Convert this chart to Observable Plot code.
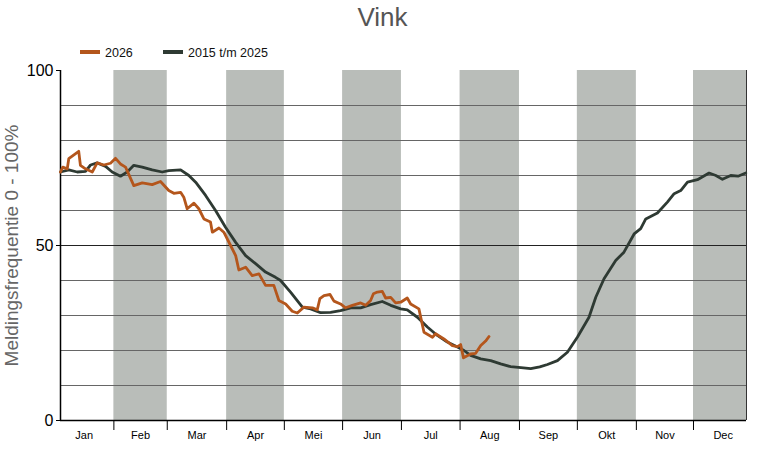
<!DOCTYPE html>
<html>
<head>
<meta charset="utf-8">
<script src="https://cdn.jsdelivr.net/npm/d3@7"></script>
<script src="https://cdn.jsdelivr.net/npm/@observablehq/plot@0.6"></script>
<style>
  html, body { margin: 0; padding: 0; background: #fff; }
  body { width: 765px; height: 450px; overflow: hidden; font-family: "Liberation Sans", Arial, sans-serif; }
  #header { position: relative; width: 765px; height: 60px; }
  #title { position: absolute; left: 0; top: 0; width: 765px; text-align: center; font-size: 26px; line-height: 35px; color: #555; }
  .sw { position: absolute; width: 20px; height: 4px; top: 50px; }
  .lt { position: absolute; font-size: 12.5px; line-height: 14px; top: 45.5px; color: #111; }
  #chart svg { display: block; }
</style>
</head>
<body>
<div id="header">
  <div id="title">Vink</div>
  <div class="sw" id="sw1" style="left:80px"></div><div class="lt" id="lt1" style="left:105px"></div>
  <div class="sw" id="sw2" style="left:163px"></div><div class="lt" id="lt2" style="left:188px"></div>
</div>
<div id="chart"></div>
<script>
// ---- data ----
const months = ["Jan","Feb","Mar","Apr","Mei","Jun","Jul","Aug","Sep","Okt","Nov","Dec"];
const monthEdges = [0, 28.4, 56.8, 88.4, 119.1, 150.1, 181.4, 212.6, 244.2, 275.0, 306.4, 336.8, 365];
const monthLabelAt = [12.6, 42.6, 72.6, 103.8, 134.6, 165.8, 197.0, 228.4, 259.6, 290.7, 321.6, 352.6];
const yTicks = [0, 50, 100];
const yGrid = [10, 20, 30, 40, 60, 70, 80, 90];
const seriesNames = ["2026", "2015 t/m 2025"];
const seriesColors = ["#b4561c", "#2e3a33"];
const yLabel = "Meldingsfrequentie 0 - 100%";

// 2015 t/m 2025 (day of year, value)
const refDays = [0,4.4,8.9,13.3,16.0,19.5,24.0,27.5,31.9,35.5,39.0,43.5,48.8,54.1,57.6,63.9,68.3,71.9,77.2,82.5,87.8,93.2,98.5,103.8,109.1,114.4,117.1,122.4,128.7,133.1,138.4,143.7,149.0,154.4,159.7,165.0,171.2,175.7,181.0,184.5,189.9,195.2,200.5,205.8,211.2,214.7,218.2,223.6,228.9,234.2,239.5,245.0,250.2,255.0,259.1,264.4,269.7,275.0,281.2,284.8,289.2,295.4,299.8,305.2,308.7,311.4,317.6,322.9,326.5,330.0,333.6,338.9,345.1,348.7,352.2,356.6,360.5,364.6];
const refValues = [71.0,71.6,71.0,71.2,73.0,73.6,72.6,71.0,69.8,71.0,72.9,72.4,71.6,71.0,71.4,71.6,70.0,68.1,64.3,60.0,55.2,50.9,47.1,44.8,42.4,40.9,40.0,36.7,32.4,31.9,30.8,30.9,31.4,32.2,32.2,33.1,34.0,32.9,31.9,31.6,29.5,26.7,24.3,22.4,21.0,20.0,18.6,17.6,17.1,16.2,15.4,15.1,14.8,15.3,16.0,17.1,19.5,23.8,29.5,35.2,40.5,45.7,48.1,53.3,54.8,57.6,59.3,62.4,64.8,65.7,68.1,68.8,70.7,70.0,68.9,70.0,69.8,70.7];

// 2026 (day of year, value)
const curDays = [0,1.2,3.6,4.4,9.7,10.6,13.3,16.9,19.5,23.0,26.6,29.3,31.9,34.6,39.0,43.5,48.8,53.2,57.6,60.3,63.9,65.6,67.4,71.0,73.6,76.3,79.8,80.8,84.3,86.9,90.5,93.2,94.9,98.5,102.0,105.6,109.1,113.5,116.2,119.8,123.3,126.0,129.5,134.0,136.6,138.0,140.2,143.4,145.5,149.0,151.7,155.3,159.7,162.4,165.0,166.5,168.6,171.2,173.0,175.7,178.3,181.0,184.5,186.3,190.7,193.4,197.9,199.6,204.0,208.5,211.2,212.9,214.4,218.2,220.9,223.6,226.2,228.0];
const curValues = [71.0,72.4,71.9,74.8,76.9,72.9,71.9,71.0,73.6,73.0,73.5,74.9,73.3,72.4,67.1,67.9,67.4,68.3,65.7,64.9,65.2,63.8,60.5,62.1,60.5,57.6,56.7,53.8,55.0,53.8,50.0,47.1,43.0,43.8,41.4,41.9,38.6,38.6,34.3,33.3,31.2,30.7,32.4,32.2,31.6,34.8,35.7,36.0,34.1,33.3,32.2,32.9,33.6,32.9,34.3,36.2,36.7,36.9,35.0,35.2,33.6,33.8,35.0,33.3,31.9,25.2,23.8,24.8,23.3,21.4,21.1,21.7,17.9,19.0,19.2,21.4,22.7,24.0];

// ---- derived tables ----
const ref = refDays.map((d, i) => ({day: d, value: refValues[i]}));
const cur = curDays.map((d, i) => ({day: d, value: curValues[i]}));
const monthTable = months.map((m, i) => ({name: m, start: monthEdges[i], end: monthEdges[i + 1], at: monthLabelAt[i], shaded: i % 2 === 1}));

// legend
document.getElementById("sw1").style.background = seriesColors[0];
document.getElementById("sw2").style.background = seriesColors[1];
document.getElementById("lt1").textContent = seriesNames[0];
document.getElementById("lt2").textContent = seriesNames[1];

const chart = Plot.plot({
  width: 765,
  height: 390,
  marginLeft: 60,
  marginRight: 19,
  marginTop: 10,
  marginBottom: 30,
  style: {fontFamily: "'Liberation Sans', Arial, sans-serif", background: "white"},
  x: {domain: [monthEdges[0], monthEdges[monthEdges.length - 1]], axis: null},
  y: {domain: [0, 100], axis: null},
  marks: [
    Plot.rect(monthTable.filter(d => d.shaded), {x1: "start", x2: "end", y1: () => 0, y2: () => 100, fill: "#b9bdb9"}),
    Plot.ruleY(yGrid, {stroke: "#666", strokeWidth: 1}),
    Plot.ruleY([50], {stroke: "#222", strokeWidth: 1}),
    Plot.ruleY([0], {stroke: "#000", strokeWidth: 1.5}),
    Plot.ruleX([monthEdges[0]], {y1: 0, y2: 100, stroke: "#000", strokeWidth: 1.5}),
    Plot.ruleX([monthEdges[monthEdges.length - 1]], {y1: 0, y2: 100, stroke: "#333", strokeWidth: 1}),
    Plot.axisY({ticks: yTicks, tickSize: 4, tickPadding: 3, fontSize: 16, color: "#000", label: null, tickFormat: d => String(d)}),
    Plot.axisX({ticks: monthEdges.slice(1, 12), tickSize: 10, tickFormat: () => "", label: null, stroke: "#000"}),
    Plot.text(monthTable, {x: "at", text: "name", frameAnchor: "bottom", dy: 18, fontSize: 11, fill: "#000"}),
    Plot.text([yLabel], {frameAnchor: "left", textAnchor: "middle", rotate: -90, dx: -49, fontSize: 19, fill: "#666"}),
    Plot.line(ref, {x: "day", y: "value", stroke: seriesColors[1], strokeWidth: 2.8, strokeLinejoin: "round"}),
    Plot.line(cur, {x: "day", y: "value", stroke: seriesColors[0], strokeWidth: 2.8, strokeLinejoin: "round"})
  ]
});
document.getElementById("chart").appendChild(chart);
</script>
</body>
</html>
